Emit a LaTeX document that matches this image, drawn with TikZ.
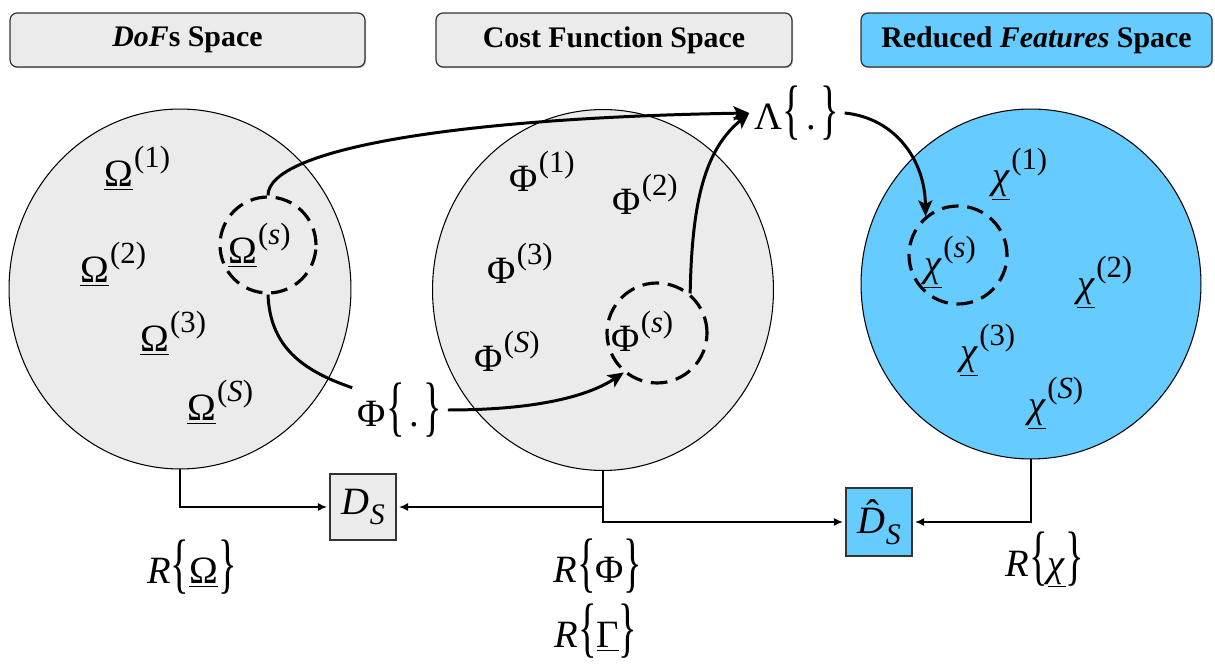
\documentclass[tikz,border=0pt]{standalone}
\usepackage{graphicx}
\usepackage{fontspec}
\setmainfont{Liberation Serif}
\usetikzlibrary{shapes.geometric,arrows.meta,shadows}
\definecolor{gfill}{RGB}{235,235,235}
\definecolor{bfill}{RGB}{102,204,255}
% superscript "(..)"
\newcommand{\sups}[1]{\kern0.03em\raisebox{0.5em}{\fontsize{17.5}{19}\selectfont(#1)}}
% tall braces round #1
\newcommand{\bbr}[1]{\raisebox{-0.04em}{\scalebox{1}[1.7]{\{}}#1\raisebox{-0.04em}{\scalebox{1}[1.7]{\}}}}
\newcommand{\subS}{\kern0.02em\raisebox{-0.28em}{\fontsize{17}{19}\selectfont\textit{S}}}
\newcommand{\hatD}{\textit{D}\llap{\raisebox{0.2em}{ˆ}\hspace{0.14em}}}
\begin{document}
\begin{tikzpicture}[x=0.02cm,y=-0.02cm,
 head/.style={draw=black!80, line width=0.7pt, rounded corners=0.14cm, minimum height=1.08cm,
   font=\fontsize{17}{20}\selectfont\bfseries,
   drop shadow={shadow xshift=0.6pt,shadow yshift=-0.7pt,fill=black!45}},
 spacebox/.style={ellipse, draw, line width=0.6pt, inner sep=0},
 lbl/.style={anchor=base west, inner sep=0, font=\fontsize{22}{26}\selectfont},
 dcirc/.style={circle, draw, line width=1.8pt, dash pattern=on 9.5pt off 5pt, inner sep=0},
 tarrow/.style={line width=1.7pt, -{Stealth[length=9pt,width=8pt,inset=2pt]}},
 tline/.style={line width=1.7pt},
 conn/.style={line width=0.6pt, -{Latex[length=5pt,width=4.5pt]}, shorten >=1.5pt},
 dbox/.style={draw=black!80, line width=0.7pt, minimum width=1.32cm, minimum height=1.32cm,
   inner sep=0, font=\fontsize{22}{26}\selectfont},
 rlbl/.style={inner sep=0, font=\fontsize{22}{26}\selectfont},
 oplbl/.style={inner sep=3pt, font=\fontsize{22}{26}\selectfont}]
\useasboundingbox (0,0) rectangle (1215,665);

% header boxes
\node[head, fill=gfill, minimum width=7.1cm] (h1) at (187.5,40) {\textit{DoF}s Space};
\node[head, fill=gfill, minimum width=7.12cm] (h2) at (614,40) {Cost Function Space};
\node[head, fill=bfill, minimum width=7.02cm] (h3) at (1036.5,40) {Reduced \textit{Features} Space};

% spaces
\node[spacebox, fill=gfill, minimum width=6.84cm, minimum height=7.2cm] (cL) at (180,289) {};
\node[spacebox, fill=gfill, minimum width=6.82cm, minimum height=7.22cm] (cM) at (603,290) {};
\node[spacebox, fill=bfill, minimum width=6.8cm, minimum height=7.0cm] (cR) at (1031,284) {};

% dashed circles
\node[dcirc, minimum size=1.92cm] (dO) at (268,245) {};
\node[dcirc, minimum size=2.0cm] (dP) at (657,333) {};
\node[dcirc, minimum size=1.96cm] (dC) at (958,255) {};

% DoF labels
\node[lbl] (o1) at (104,187) {\underline{Ω}\sups{1}};
\node[lbl] (o2) at (80,283) {\underline{Ω}\sups{2}};
\node[lbl] (os) at (228,264) {\underline{Ω}\sups{\textit{s}}};
\node[lbl] (o3) at (140,352) {\underline{Ω}\sups{3}};
\node[lbl] (oS) at (187,421) {\underline{Ω}\sups{\textit{S}}};

% cost labels
\node[lbl] (p1) at (509,192) {Φ\sups{1}};
\node[lbl] (p2) at (612,215) {Φ\sups{2}};
\node[lbl] (p3) at (487,284) {Φ\sups{3}};
\node[lbl] (pS) at (474,372) {Φ\sups{\textit{S}}};
\node[lbl] (ps) at (611,352) {Φ\sups{\textit{s}}};

% feature labels
\node[lbl] (x1) at (992,189) {\underline{\textit{χ}}\sups{1}};
\node[lbl] (xs) at (924,277) {\underline{\textit{χ}}\sups{\textit{s}}};
\node[lbl] (x2) at (1077,297) {\underline{\textit{χ}}\sups{2}};
\node[lbl] (x3) at (960,365) {\underline{\textit{χ}}\sups{3}};
\node[lbl] (xS) at (1028,418) {\underline{\textit{χ}}\sups{\textit{S}}};

% operators
\node[oplbl] (phiop) at (400,410) {Φ\bbr{\kern0.12em.\kern0.12em}};
\node[oplbl] (lam) at (797,113) {Λ\bbr{\kern0.12em.\kern0.12em}};

% curved arrows
\draw[tarrow] (dO.north) .. controls (268,150) and (450,118) .. (lam.west);
\draw[tline] (dO.south) .. controls (270,345) and (300,370) .. (phiop.155);
\draw[tarrow] (phiop.east) .. controls (540,410) and (590,395) .. (dP.230);
\draw[tarrow] (dP.50) .. controls (692,200) and (705,150) .. (lam.west);
\draw[tarrow] (lam.east) .. controls (895,118) and (925,160) .. (dC.130);

% distance boxes
\node[dbox, fill=gfill] (DS) at (363,507) {\textit{D}\subS};
\node[dbox, fill=bfill, minimum height=1.36cm] (DSh) at (879,522) {\hatD\subS};

\draw[conn] (cL.south) |- (DS.west);
\draw[conn] (cM.south) |- (DSh.west);
\draw[conn] (cM.south |- DS.east) -- (DS.east);
\draw[conn] (cR.south) |- (DSh.east);

% R labels
\node[rlbl] (RO) at (192,567) {\textit{R}\bbr{\underline{Ω}}};
\node[rlbl] (RP) at (598,566) {\textit{R}\bbr{Φ}};
\node[rlbl] (RG) at (596,631) {\textit{R}\bbr{\underline{Γ}}};
\node[rlbl] (RC) at (1045,560) {\textit{R}\bbr{\underline{\textit{χ}}}};
\end{tikzpicture}
\end{document}
